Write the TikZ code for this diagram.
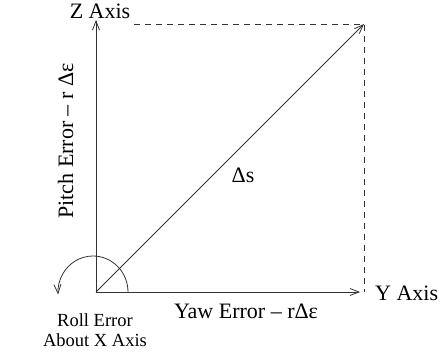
\documentclass[tikz,border=0pt]{standalone}
\usepackage{fontspec}
\setmainfont{Liberation Serif}
\usetikzlibrary{arrows.meta}
\begin{document}
\begin{tikzpicture}[x=1pt, y=-1pt, font=\fontsize{22}{23}\selectfont,
    axis/.style={draw=black!80, line width=0.8pt, -{Straight Barb[length=9pt, width=7pt]}},
    guide/.style={draw=black!80, line width=0.8pt, dashed, dash pattern=on 6pt off 5pt},
    lbl/.style={inner sep=0pt, anchor=base, align=center},
    small/.style={font=\fontsize{18.5}{20}\selectfont},
  ]
    \useasboundingbox (0,0) rectangle (441,352);

    % axes
    \coordinate (o) at (96,292);
    \coordinate (ztip) at (96,20);
    \coordinate (ytip) at (360,292);
    \coordinate (stip) at (364,24);
    \draw[axis] (o) -- (ztip);
    \draw[axis] (o) -- (ytip);
    \draw[axis] (o) -- (stip);

    % dashed box
    \coordinate (zdash) at (134,24);
    \coordinate (ydash) at (364,292);
    \draw[guide] (zdash) -- (stip) -- (ydash);

    % roll arc
    \draw[axis] (o) ++(32,0) arc[start angle=0, end angle=184, x radius=35, y radius=-36];

    % labels
    \node[lbl] (zlbl) at (100,19) {Z Axis};
    \node[lbl, anchor=base west] (ylbl) at (375,300) {Y Axis};
    \node[lbl] (slbl) at (243,183) {Δs};
    \node[lbl] (yaw)  at (246,318) {Yaw Error – rΔε};
    \node[lbl, rotate=90] (pitch) at (73,141) {Pitch Error – r Δε};
    \node[lbl, small] (roll) at (95,326) {Roll Error};
    \node[lbl, small] (about) at (95,346) {About X Axis};
\end{tikzpicture}
\end{document}
